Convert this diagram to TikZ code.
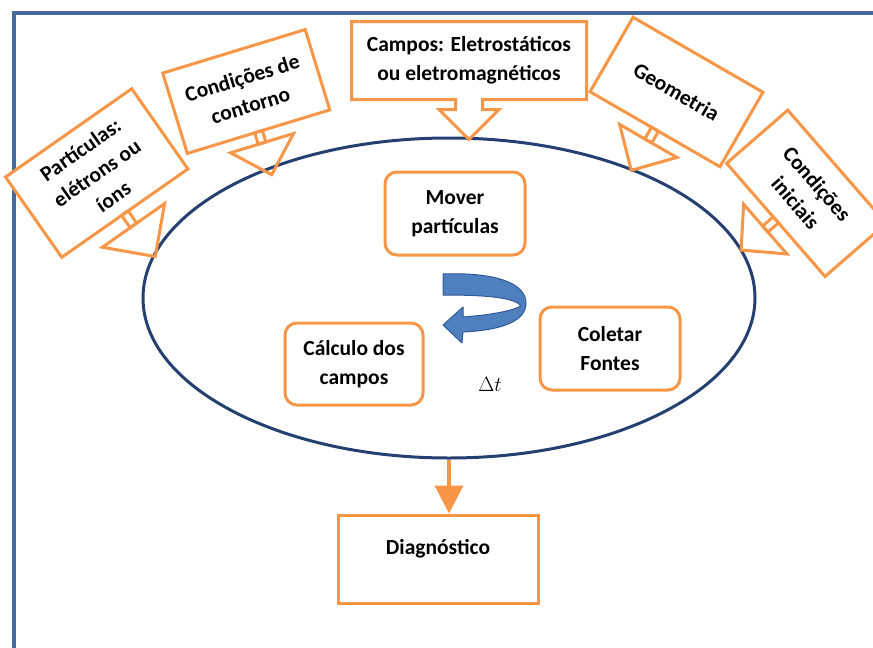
\documentclass[tikz,border=0pt]{standalone}
\usepackage{fontspec}
\setmainfont{Carlito}
\usetikzlibrary{shapes.geometric,arrows.meta}

\definecolor{callorange}{RGB}{247,150,70}
\definecolor{frameblue}{RGB}{70,104,154}
\definecolor{loopblue}{RGB}{36,64,112}
\definecolor{twistblue}{RGB}{78,128,192}
\definecolor{twistedge}{RGB}{50,90,150}

\newcommand\labelfont{\bfseries\fontsize{21.5}{28.5}\selectfont}

\tikzset{
  stepnode/.style={draw=callorange, line width=3pt, rounded corners=12pt, fill=white,
    minimum width=140pt, minimum height=83pt, align=center, font=\labelfont},
  callbox/.style={draw=callorange, line width=3pt, fill=white, align=center, font=\labelfont},
  callline/.style={draw=callorange, line width=3pt, line join=miter},
}

\begin{document}
\begin{tikzpicture}[x=1pt, y=-1pt]
\useasboundingbox (0,0) rectangle (873,648);

% frame
\draw[frameblue, line width=4pt] (873,13) -- (14,13) -- (14,648);

% main loop
\node[draw=loopblue, line width=3pt, ellipse, minimum width=612pt, minimum height=320pt] (loop) at (449,298) {};

\node[stepnode] (mover) at (455,213.5) {Mover\\partículas};
\node[stepnode, minimum width=138pt, minimum height=82pt] (calculo) at (354,364) {Cálculo dos\\campos};
\node[stepnode] (coletar) at (610,348.5) {Coletar\\Fontes};
\node[font=\fontsize{22}{26}\selectfont] (dt) at (490,384) {$\Delta t$};

% twisted arrow
\filldraw[fill=twistblue, draw=twistedge, line width=1pt, line join=round]
  (443,274) .. controls (495,272) and (526,283) .. (526,303)
  .. controls (526,320) and (505,330) .. (463,332)
  -- (462,343) -- (443,325) -- (463,307) -- (463,317)
  .. controls (490,315) and (512,311) .. (521,306)
  .. controls (515,298) and (490,295) .. (443,295) -- cycle;

% callouts
\node[callbox, draw=none, minimum width=232pt, minimum height=75pt] (campos) at (469,60.5)
  {Campos: Eletrostáticos\\ou eletromagnéticos};
\draw[callline] (campos.north west) -- (campos.north east) -- (campos.south east)
  -- ([xshift=13.5pt]campos.south) -- ++(0,10) -- ++(16.5,0) -- ++(-30,30)
  -- ++(-30,-30) -- ++(16.5,0) -- ++(0,-10) -- (campos.south west) -- cycle;

\begin{scope}[shift={(96.75,173)}, rotate=35, transform shape]
  \node[callbox, minimum width=154pt, minimum height=98pt] (part) at (0,0) {Partículas:\\elétrons ou\\íons};
  \draw[callline] (-4,49) rectangle (4,64);
  \draw[callline] (-38,64) -- (38,64) -- (0,102) -- cycle;
\end{scope}

\begin{scope}[shift={(246.25,91.5)}, rotate=17, transform shape]
  \node[callbox, minimum width=149pt, minimum height=84pt] (contorno) at (0,0) {Condições de\\contorno};
  \draw[callline] (-4,42) rectangle (4,54);
  \draw[callline] (-33,54) -- (33,54) -- (0,87) -- cycle;
\end{scope}

\begin{scope}[shift={(676.5,92)}, rotate=-30, transform shape]
  \node[callbox, minimum width=150pt, minimum height=86pt] (geo) at (0,0) {Geometria};
  \draw[callline] (-4,43) rectangle (4,56.5);
  \draw[callline] (-33,56.5) -- (33,56.5) -- (0,90.5) -- cycle;
\end{scope}

\begin{scope}[shift={(806.4,193.3)}, rotate=-49, transform shape]
  \node[callbox, minimum width=150pt, minimum height=81pt] (iniciais) at (0,0) {Condições\\iniciais};
  \draw[callline] (-4,40.5) rectangle (4,54.5);
  \draw[callline] (-33,54.5) -- (33,54.5) -- (0,86.5) -- cycle;
\end{scope}

% diagnostics
\node[draw=callorange, line width=3pt, minimum width=200pt, minimum height=88pt, text depth=25pt, font=\labelfont] (diag) at (438,559) {Diagnóstico};
\draw[callorange, line width=4pt, -{Triangle[width=28pt,length=28pt]}] (loop.south) -- (loop.south |- diag.north);
\end{tikzpicture}
\end{document}
